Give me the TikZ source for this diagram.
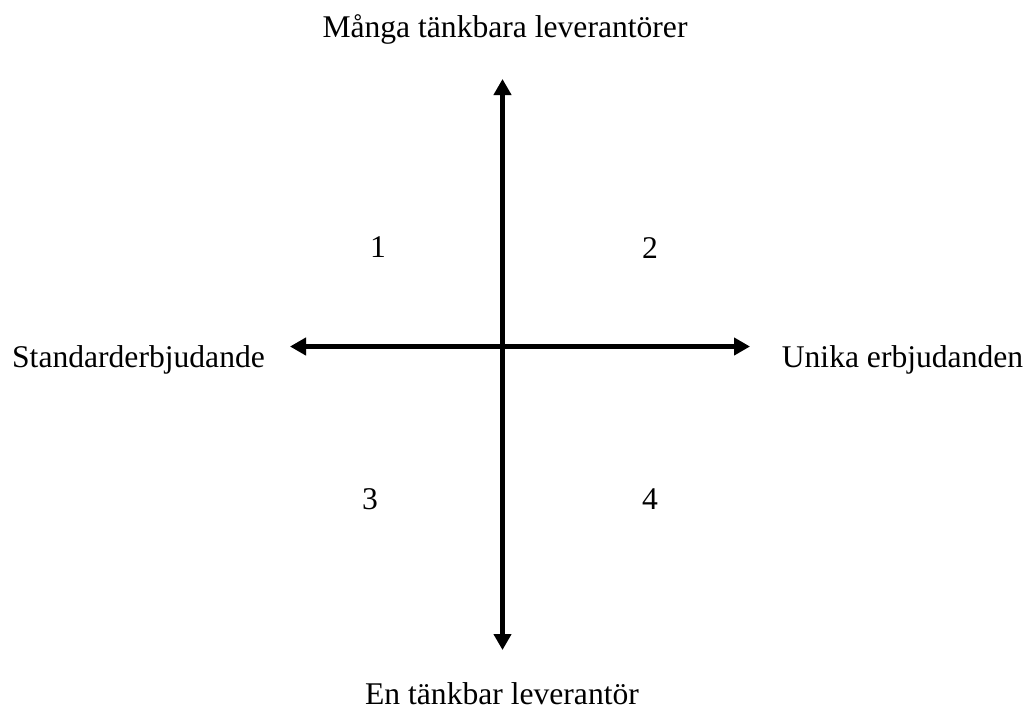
\documentclass[tikz,border=0pt]{standalone}
\usepackage{fontspec}
\setmainfont{Liberation Serif}
\usetikzlibrary{arrows.meta}
\begin{document}
\begin{tikzpicture}[x=1pt,y=-1pt,
  axis/.style={line width=5pt,-{Triangle[width=17pt,length=16pt]}},
  axisshadow/.style={line width=5pt,draw=black!12,-{Triangle[width=17pt,length=16pt]}},
  lbl/.style={font=\fontsize{31.6}{36}\selectfont,anchor=base,inner sep=0pt}]
\useasboundingbox (0,0) rectangle (1027,710);
% end points
\coordinate (c) at (502.5,346.5);
\coordinate (top) at (502.5,79);
\coordinate (bot) at (502.5,650);
\coordinate (lft) at (290,346.5);
\coordinate (rgt) at (750,346.5);
% soft shadows
\begin{scope}[shift={(1.5,3)}]
\draw[axisshadow] (c) -- (top);
\draw[axisshadow] (c) -- (bot);
\draw[axisshadow] (c) -- (lft);
\draw[axisshadow] (c) -- (rgt);
\end{scope}
% axes
\draw[axis] (c) -- (top);
\draw[axis] (c) -- (bot);
\draw[axis] (c) -- (lft);
\draw[axis] (c) -- (rgt);
% labels
\node[lbl] (tl) at (505,37) {Många tänkbara leverantörer};
\node[lbl] (bl) at (502,704) {En tänkbar leverantör};
\node[lbl] (ll) at (138.5,367) {Standarderbjudande};
\node[lbl] (rl) at (902.5,367) {Unika erbjudanden};
\node[lbl] (q1) at (378,257) {1};
\node[lbl] (q2) at (650,258) {2};
\node[lbl] (q3) at (370,509) {3};
\node[lbl] (q4) at (650,509) {4};
\end{tikzpicture}
\end{document}
